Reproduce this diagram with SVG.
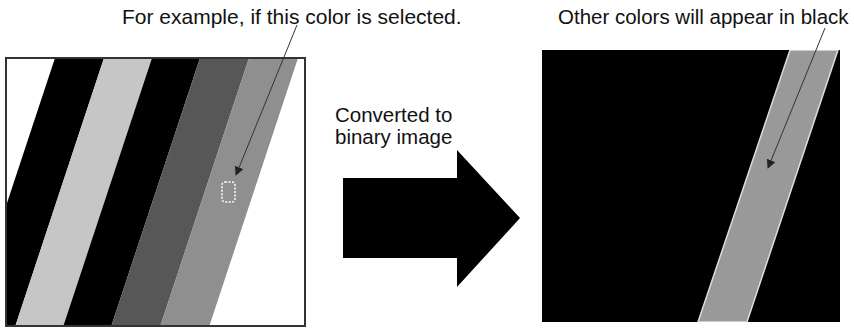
<svg xmlns="http://www.w3.org/2000/svg" width="854" height="329" viewBox="0 0 854 329">
<style>
.t{font-family:"Liberation Sans",Arial,sans-serif;fill:#111}
.ann{stroke:#333;stroke-width:1;fill:none}
</style>
<defs>
<marker id="ah" viewBox="0 0 10 10" refX="9" refY="5" markerWidth="9" markerHeight="9" markerUnits="userSpaceOnUse" orient="auto">
<path d="M0,0 L10,5 L0,10 z" fill="#222"/>
</marker>
<clipPath id="lc"><rect x="6" y="58" width="299" height="268"/></clipPath>
<clipPath id="rc"><rect x="542" y="50" width="298" height="272"/></clipPath>
</defs>
<rect width="854" height="329" fill="#fff"/>
<g id="source-image">
<g clip-path="url(#lc)">
<rect x="6" y="58" width="299" height="269" fill="#fff"/>
<polygon points="55,58 104,58 15,327 -34,327" fill="#000"/>
<polygon points="104,58 152,58 63,327 15,327" fill="#c6c6c6"/>
<polygon points="152,58 200,58 111,327 63,327" fill="#000"/>
<polygon points="200,58 249,58 160,327 111,327" fill="#575757"/>
<polygon points="249,58 298,58 209,327 160,327" fill="#8f8f8f"/>
</g>
<rect x="6" y="58" width="299" height="268" fill="none" stroke="#333" stroke-width="2"/>
<rect x="222" y="182" width="13" height="20" rx="3" fill="none" stroke="#fff" stroke-width="1.5" stroke-dasharray="2,1.5"/>
</g>
<g id="binary-image">
<g clip-path="url(#rc)">
<rect x="542" y="50" width="298" height="272" fill="#000"/>
<polygon points="790,50 838,50 747,322 698,322" fill="#999" stroke="#ddd" stroke-width="1.5"/>
</g>
</g>
<g id="convert-arrow">
<polygon points="343,178 457,178 457,150 520,218 457,287 457,258 343,258" fill="#000"/>
<text class="t" x="335" y="122" font-size="20.5">Converted to</text>
<text class="t" x="335" y="144" font-size="20.5">binary image</text>
</g>
<g id="labels">
<text class="t" x="122" y="24" font-size="21">For example, if this color is selected.</text>
<text class="t" x="558" y="24" font-size="20.5">Other colors will appear in black</text>
</g>
<g id="connectors">
<line class="ann" x1="297" y1="25" x2="236" y2="175" marker-end="url(#ah)"/>
<line class="ann" x1="825" y1="28" x2="768" y2="168" marker-end="url(#ah)"/>
</g>
</svg>
